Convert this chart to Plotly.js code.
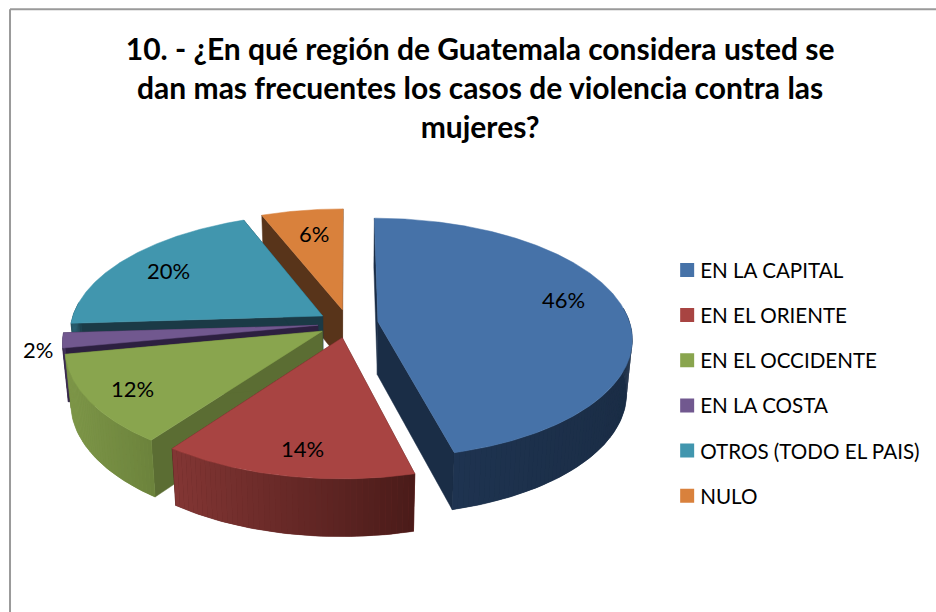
<!DOCTYPE html>
<html>
<head>
<meta charset="utf-8">
<script src="https://cdn.plot.ly/plotly-3.0.1.min.js"></script>
<style>html,body{margin:0;padding:0;background:#fff}#chart{width:936px;height:612px}</style>
</head>
<body>
<div id="chart"></div>
<script>
// ---- data ----
var categories = ["EN LA CAPITAL","EN EL ORIENTE","EN EL OCCIDENTE","EN LA COSTA","OTROS (TODO EL PAIS)","NULO"];
var percentages = [46,14,12,2,20,6];
var titleText = "10. - ¿En qué región de Guatemala considera usted se<br>dan mas frecuentes los casos de violencia contra las<br>mujeres?";

// ---- styles ----
var topColors  = ["#4672a8","#a84442","#89a54e","#71588f","#4196ae","#d9813c"];
var cutColors  = ["#1a2d46","#4e1e1c","#5b6d33","#2d2040","#1b3a46","#58341a"];
var wallLeft   = ["#1e3350","#833634","#80994a","#4a3a60","#2a6070","#8f5526"];
var wallRight  = ["#1a2c44","#4a1b19","#6c833c","#2d2040","#1b3a46","#58341a"];
var labelSpots = [[563,299],[302,448],[132,388],[38,349],[168,270],[314,233]];

// ---- 3D pie projection settings ----
var P = {cx:348, cy:323.5, a:252, b:118, persp:0.135, explode:0.12, depth:53, depthGrow:0.08, shrink:0.98};

function proj(X, Y, low){
  var s = 1/(1 + P.persp*Y);
  var x = P.cx + P.a*X*s, y = P.cy - P.b*Y*s;
  if(low){ x = P.cx + (x-P.cx)*P.shrink; y += P.depth*(1 - P.depthGrow*Y); }
  return [x,y];
}
function mix(c1,c2,t){
  var p=function(c,i){return parseInt(c.substr(1+2*i,2),16)};
  var o=[0,1,2].map(function(i){return Math.round(p(c1,i)+(p(c2,i)-p(c1,i))*t)});
  return "rgb("+o.join(",")+")";
}
function poly(pts,color,lw,name){
  var xs=pts.map(function(p){return p[0]}), ys=pts.map(function(p){return p[1]});
  xs.push(xs[0]); ys.push(ys[0]);
  return {type:"scatter",mode:"lines",x:xs,y:ys,fill:"toself",fillcolor:color,
          line:{color:color,width:lw},hoverinfo:name?"text":"skip",text:name||"",showlegend:false};
}

var total = percentages.reduce(function(a,b){return a+b},0);
var slices = [], acc = 0;
percentages.forEach(function(v,i){
  var a0 = acc/total*2*Math.PI; acc += v;
  var a1 = acc/total*2*Math.PI, m=(a0+a1)/2;
  slices.push({i:i,a0:a0,a1:a1,ox:P.explode*Math.sin(m),oy:P.explode*Math.cos(m),my:Math.cos(m)});
});
var order = slices.slice().sort(function(p,q){return q.my-p.my});

var traces = [];
order.forEach(function(s){
  var pt=function(ang,r,low){return proj(s.ox+r*Math.sin(ang), s.oy+r*Math.cos(ang), low)};
  var n = Math.max(8,Math.round((s.a1-s.a0)*50));
  // radial cut faces
  [s.a0,s.a1].forEach(function(ang){
    traces.push(poly([pt(ang,0,false),pt(ang,1,false),pt(ang,1,true),pt(ang,0,true)],cutColors[s.i],0.5));
  });
  // outer wall: only the part that faces the viewer, shaded from left to right
  var vis=[],k;
  for(k=0;k<=n;k++){ var ang=s.a0+(s.a1-s.a0)*k/n; if(Math.cos(ang)<0.12) vis.push(ang); }
  if(vis.length>1){
    var xsv=vis.map(Math.sin), minX=Math.min.apply(null,xsv), maxX=Math.max.apply(null,xsv);
    var upper=vis.map(function(a){return pt(a,1,false)}), lower=vis.map(function(a){return pt(a,1,true)}).reverse();
    traces.push(poly(upper.concat(lower),mix(wallLeft[s.i],wallRight[s.i],0.5),0.5));
    for(k=0;k<vis.length-1;k++){
      var t=maxX>minX?(Math.sin((vis[k]+vis[k+1])/2)-minX)/(maxX-minX):0;
      traces.push(poly([pt(vis[k],1,false),pt(vis[k+1],1,false),pt(vis[k+1],1,true),pt(vis[k],1,true)],mix(wallLeft[s.i],wallRight[s.i],t),0));
    }
  }
  // top face
  var top=[pt(0,0,false)];
  for(k=0;k<=3*n;k++){ top.push(pt(s.a0+(s.a1-s.a0)*k/(3*n),1,false)); }
  traces.push(poly(top,topColors[s.i],0.5,categories[s.i]+": "+percentages[s.i]+"%"));
});

// legend entries
categories.forEach(function(c,i){
  traces.push({type:"scatter",mode:"markers",x:[null],y:[null],name:c,legendgroup:"g"+i,
    marker:{symbol:"square",size:14,color:topColors[i]},hoverinfo:"skip",showlegend:true});
});

var annotations = percentages.map(function(v,i){
  return {x:labelSpots[i][0],y:labelSpots[i][1],xref:"x",yref:"y",text:v+"%",showarrow:false,
          font:{family:"Lato, Carlito, sans-serif",size:22,color:"#000"},xanchor:"center",yanchor:"middle"};
});

var layout = {
  width:936,height:612,margin:{l:0,r:0,t:0,b:0},
  paper_bgcolor:"#fff",plot_bgcolor:"rgba(0,0,0,0)",
  font:{family:"Lato, Carlito, sans-serif",color:"#000"},
  title:{text:titleText,x:0.513,xanchor:"center",y:0.902,yanchor:"top",
         font:{family:"Lato, Carlito, sans-serif",size:30,color:"#000",weight:700}},
  xaxis:{range:[0,936],visible:false,fixedrange:true},
  yaxis:{range:[612,0],visible:false,fixedrange:true},
  showlegend:true,
  legend:{x:0.7053,y:0.5915,xanchor:"left",yanchor:"top",font:{family:"Lato, Carlito, sans-serif",size:20.6,color:"#000"},
          tracegroupgap:15.4,bgcolor:"rgba(0,0,0,0)",itemclick:false,itemdoubleclick:false},
  annotations:annotations,
  shapes:[
    {type:"line",xref:"paper",yref:"paper",x0:0.0107,x1:0.0107,y0:0,y1:0.985,line:{color:"#9a9a9a",width:2}},
    {type:"line",xref:"paper",yref:"paper",x0:0.0107,x1:1,y0:0.985,y1:0.985,line:{color:"#9a9a9a",width:2}}
  ]
};
Plotly.newPlot("chart",traces,layout,{displayModeBar:false,responsive:false}).then(function(gd){
  // legend swatches sit closer to their text in the reference
  gd.querySelectorAll(".legend .legendpoints .scatterpts").forEach(function(p){
    var m=/translate\(([-\d.]+)[ ,]+([-\d.]+)\)/.exec(p.getAttribute("transform")||"");
    var x=m?parseFloat(m[1]):0, y=m?parseFloat(m[2]):0;
    p.setAttribute("transform","translate("+(x+7)+","+y+")");
  });
});
</script>
</body>
</html>
